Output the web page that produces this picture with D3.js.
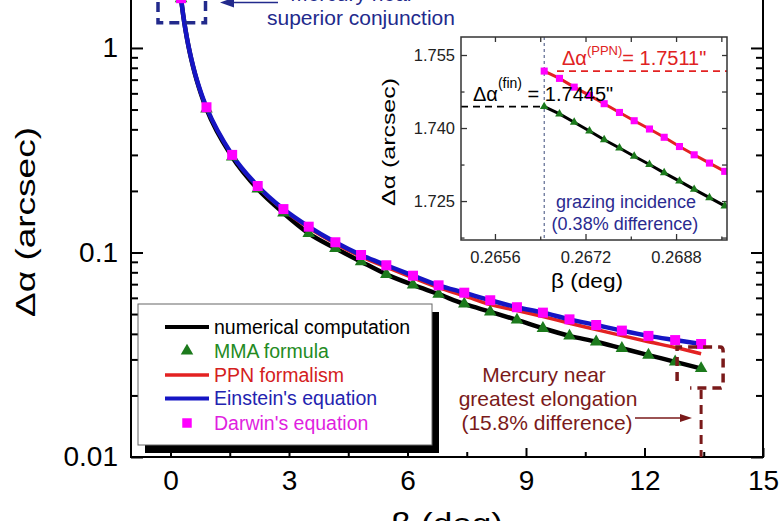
<!DOCTYPE html>
<html><head><meta charset="utf-8">
<script src="https://cdn.jsdelivr.net/npm/d3@7"></script>
<style>html,body{margin:0;padding:0;background:#fff;} svg{display:block;font-family:"Liberation Sans",Arial,sans-serif;}</style>
</head><body>
<svg id="chart" width="782" height="521"></svg>
<script>
// ---------------- data ----------------
const beta   = [0.267, 0.911, 1.561, 2.208, 2.859, 3.499, 4.174, 4.824, 5.464, 6.140, 6.787, 7.437, 8.095, 8.771, 9.428, 10.101, 10.777, 11.427, 12.100, 12.776, 13.433];
const darwin = [1.7511, 0.513, 0.300, 0.2114, 0.163, 0.1337, 0.1122, 0.0972, 0.0866, 0.0770, 0.0691, 0.0636, 0.0584, 0.0540, 0.0508, 0.0471, 0.0442, 0.0415, 0.0391, 0.0373, 0.0357];
const mma    = [1.7445, 0.503, 0.293, 0.2044, 0.1561, 0.1241, 0.1048, 0.0902, 0.0782, 0.0694, 0.0625, 0.0560, 0.0513, 0.0468, 0.0426, 0.0391, 0.0366, 0.0340, 0.0315, 0.0292, 0.0271];

// dense samples for the continuous curves
const lineBeta  = [0.267, 0.32, 0.38, 0.45, 0.53, 0.62, 0.72, 0.82, 0.911, 1.561, 2.208, 2.859, 3.499, 4.174, 4.824, 5.464, 6.140, 6.787, 7.437, 8.095, 8.771, 9.428, 10.101, 10.777, 11.427, 12.100, 12.776, 13.433];
const numerical = [1.7445, 1.452, 1.222, 1.031, 0.874, 0.745, 0.640, 0.560, 0.503, 0.293, 0.2044, 0.1561, 0.1241, 0.1048, 0.0902, 0.0782, 0.0694, 0.0625, 0.0560, 0.0513, 0.0468, 0.0426, 0.0391, 0.0366, 0.0340, 0.0315, 0.0292, 0.0271];
const ppn       = [1.7511, 1.457, 1.226, 1.035, 0.879, 0.751, 0.647, 0.567, 0.512, 0.299, 0.210, 0.1615, 0.1320, 0.1105, 0.0955, 0.0848, 0.0752, 0.0673, 0.0614, 0.0556, 0.0520, 0.0486, 0.0451, 0.0420, 0.0392, 0.0366, 0.0343, 0.0320];
const einstein  = [1.7511, 1.458, 1.227, 1.036, 0.880, 0.752, 0.648, 0.569, 0.513, 0.300, 0.2114, 0.163, 0.1337, 0.1122, 0.0972, 0.0866, 0.0770, 0.0691, 0.0636, 0.0584, 0.0540, 0.0508, 0.0471, 0.0442, 0.0415, 0.0391, 0.0373, 0.0357];

const xTicks = [0, 3, 6, 9, 12, 15];
const xMinorTicks = [1.5, 4.5, 7.5, 10.5, 13.5];
const yTicks = [0.01, 0.1, 1];
const yTickLabels = ["0.01", "0.1", "1"];
const yMinorTicks = [0.02,0.03,0.04,0.05,0.06,0.07,0.08,0.09,0.2,0.3,0.4,0.5,0.6,0.7,0.8,0.9];

// inset
const insetBeta = [0.26647, 0.26674, 0.26700, 0.26727, 0.26753, 0.26780, 0.26806, 0.26833, 0.26859, 0.26886, 0.26912, 0.26939, 0.26966];
const insetPPN  = [1.7517, 1.7502, 1.7484, 1.7467, 1.7450, 1.7432, 1.7415, 1.7398, 1.7381, 1.7362, 1.7345, 1.7328, 1.7311];
const insetNum  = [1.7444, 1.7429, 1.7412, 1.7394, 1.7376, 1.7359, 1.7342, 1.7325, 1.7308, 1.7291, 1.7274, 1.7257, 1.7240];
const insetXTicks = [0.2656, 0.2672, 0.2688];
const insetXMinor = [0.2664, 0.2680, 0.2696];
const insetYTicks = [1.725, 1.740, 1.755];
const insetYMinor = [1.7175, 1.7325, 1.7475];

const legendItems = [
  {label: "numerical computation", type: "line", color: "#000000", text: "#000000", w: 4},
  {label: "MMA formula", type: "tri", color: "#1c7a1c", text: "#238b23"},
  {label: "PPN formalism", type: "line", color: "#e32222", text: "#d42020", w: 3.5},
  {label: "Einstein's equation", type: "line", color: "#1515c4", text: "#2323b0", w: 4},
  {label: "Darwin's equation", type: "sq", color: "#ff00ff", text: "#e01ee0"}
];

// ---------------- colours ----------------
const C = {black:"#000", green:"#1c7a1c", red:"#e32222", blue:"#1515c4", mag:"#ff00ff", navy:"#222a8c", maroon:"#7a1a1a"};

const svg = d3.select("#chart");
const FONT = '"Liberation Sans", Arial, sans-serif';

// ---------------- main scales ----------------
const x = d3.scaleLinear().domain([-1, 15]).range([131, 763]);
const y = d3.scaleLog().domain([0.01, 2]).range([457, -13.6]);
const X0 = 131, X1 = 763, Y0 = 457, Y1 = -13.6;

function styleAxis(g, fs) {
  g.attr("font-family", FONT).attr("font-size", fs);
  g.select(".domain").remove();
  g.selectAll(".tick line").attr("stroke", "#000").attr("stroke-width", 2);
  g.selectAll(".tick text").attr("fill", "#000");
}

// bottom
styleAxis(svg.append("g").attr("transform", `translate(0,${Y0})`)
  .call(d3.axisBottom(x).tickValues(xTicks).tickSizeInner(-9).tickSizeOuter(0).tickPadding(13).tickFormat(d3.format("d"))), 28);
styleAxis(svg.append("g").attr("transform", `translate(0,${Y0})`)
  .call(d3.axisBottom(x).tickValues(xMinorTicks).tickSizeInner(-5).tickSizeOuter(0).tickFormat("")), 28);
// top
styleAxis(svg.append("g").attr("transform", `translate(0,${Y1})`)
  .call(d3.axisTop(x).tickValues(xTicks).tickSizeInner(-9).tickSizeOuter(0).tickFormat("")), 28);
// left
styleAxis(svg.append("g").attr("transform", `translate(${X0},0)`)
  .call(d3.axisLeft(y).tickValues(yTicks).tickSizeInner(-12).tickSizeOuter(0).tickPadding(13).tickFormat((d, i) => yTickLabels[i])), 28);
styleAxis(svg.append("g").attr("transform", `translate(${X0},0)`)
  .call(d3.axisLeft(y).tickValues(yMinorTicks).tickSizeInner(-7).tickSizeOuter(0).tickFormat("")), 28);
// right
styleAxis(svg.append("g").attr("transform", `translate(${X1},0)`)
  .call(d3.axisRight(y).tickValues(yTicks).tickSizeInner(-12).tickSizeOuter(0).tickFormat("")), 28);
styleAxis(svg.append("g").attr("transform", `translate(${X1},0)`)
  .call(d3.axisRight(y).tickValues(yMinorTicks).tickSizeInner(-7).tickSizeOuter(0).tickFormat("")), 28);

// frame
svg.append("rect").attr("x", X0).attr("y", Y1).attr("width", X1 - X0).attr("height", Y0 - Y1)
  .attr("fill", "none").attr("stroke", "#000").attr("stroke-width", 2);

// axis titles
svg.append("text").attr("transform", "translate(35,222) rotate(-90)")
  .attr("text-anchor", "middle").attr("font-size", 27).attr("textLength", 190).attr("lengthAdjust", "spacingAndGlyphs")
  .text("Δα (arcsec)");
svg.append("text").attr("x", 447).attr("y", 534).attr("text-anchor", "middle")
  .attr("font-size", 30).attr("textLength", 112).attr("lengthAdjust", "spacingAndGlyphs").text("β (deg)");

// ---------------- curves ----------------
const line = d3.line().x(d => x(d[0])).y(d => y(d[1])).curve(d3.curveMonotoneX);
const zip = (a, b) => a.map((v, i) => [v, b[i]]);
svg.append("path").datum(zip(lineBeta, numerical)).attr("d", line).attr("fill", "none").attr("stroke", C.black).attr("stroke-width", 4.5);
svg.append("path").datum(zip(lineBeta, ppn)).attr("d", line).attr("fill", "none").attr("stroke", C.red).attr("stroke-width", 3.5);
svg.append("path").datum(zip(lineBeta, einstein)).attr("d", line).attr("fill", "none").attr("stroke", C.blue).attr("stroke-width", 4.5);

const tri = d3.symbol().type(d3.symbolTriangle).size(68);
const sq = d3.symbol().type(d3.symbolSquare).size(100);
svg.append("g").selectAll("path").data(zip(beta, mma)).join("path")
  .attr("d", tri).attr("transform", d => `translate(${x(d[0])},${y(d[1])})`).attr("fill", C.green);
svg.append("g").selectAll("path").data(zip(beta, darwin)).join("path")
  .attr("d", sq).attr("transform", d => `translate(${x(d[0])},${y(d[1])})`).attr("fill", C.mag);

// ---------------- annotations ----------------
// top-left (superior conjunction)
svg.append("path").attr("d", "M158,-30 L158,22.7 L205.5,22.7 L205.5,-30")
  .attr("fill", "none").attr("stroke", C.navy).attr("stroke-width", 3.5).attr("stroke-dasharray", "10,6");
svg.append("line").attr("x1", 278).attr("x2", 230).attr("y1", 2.5).attr("y2", 2.5).attr("stroke", C.navy).attr("stroke-width", 1.6);
svg.append("path").attr("d", "M220,2.5 L234,-2.5 L234,7.5 Z").attr("fill", C.navy);
svg.append("text").attr("x", 352).attr("y", 1).attr("text-anchor", "middle").attr("font-size", 21).attr("fill", C.navy).text("Mercury near");
svg.append("text").attr("x", 361).attr("y", 25).attr("text-anchor", "middle").attr("font-size", 21).attr("fill", C.navy).text("superior conjunction");

// bottom-right (greatest elongation)
const xl = x(beta[beta.length - 1]);
svg.append("path").attr("d", `M${xl-24},381 L${xl-24},347 L${xl+19},347 Q${xl+22},347 ${xl+22},351 L${xl+22},385 Q${xl+22},388 ${xl+19},388 L${xl-11},388`)
  .attr("fill", "none").attr("stroke", C.maroon).attr("stroke-width", 3.5).attr("stroke-dasharray", "9,6");
svg.append("line").attr("x1", xl).attr("x2", xl).attr("y1", 390).attr("y2", Y0).attr("stroke", C.maroon).attr("stroke-width", 3).attr("stroke-dasharray", "9,6");
svg.append("line").attr("x1", 635).attr("x2", 684).attr("y1", 418).attr("y2", 418).attr("stroke", C.maroon).attr("stroke-width", 1.4);
svg.append("path").attr("d", "M692,418 L680,414 L680,422 Z").attr("fill", C.maroon);
[["Mercury near", 544, 382], ["greatest elongation", 548, 406], ["(15.8% difference)", 547, 430]].forEach(([t, tx, ty]) => {
  svg.append("text").attr("x", tx).attr("y", ty).attr("text-anchor", "middle").attr("font-size", 21).attr("fill", C.maroon).text(t);
});

// ---------------- legend ----------------
const LX = 138, LY = 304, LW = 294, LH = 141;
svg.append("rect").attr("x", LX + 7).attr("y", LY + 8).attr("width", LW).attr("height", LH).attr("fill", "#000");
svg.append("rect").attr("x", LX).attr("y", LY).attr("width", LW).attr("height", LH).attr("fill", "#fff").attr("stroke", "#666").attr("stroke-width", 1);
const rowY = [327, 351, 375, 398.5, 423];
legendItems.forEach((it, i) => {
  const ry = rowY[i];
  if (it.type === "line") {
    svg.append("line").attr("x1", 165).attr("x2", 209).attr("y1", ry).attr("y2", ry).attr("stroke", it.color).attr("stroke-width", it.w);
  } else if (it.type === "tri") {
    svg.append("path").attr("d", tri).attr("transform", `translate(187,${ry})`).attr("fill", it.color);
  } else {
    svg.append("path").attr("d", d3.symbol().type(d3.symbolSquare).size(90)).attr("transform", `translate(187,${ry})`).attr("fill", it.color);
  }
  svg.append("text").attr("x", 214).attr("y", ry + 6.5).attr("font-size", 19.5).attr("fill", it.text).text(it.label);
});

// ---------------- inset ----------------
const IX0 = 461, IX1 = 727, IY0 = 240, IY1 = 37;
const xi = d3.scaleLinear().domain([0.2650, 0.2697]).range([IX0, IX1]);
const yi = d3.scaleLinear().domain([1.717, 1.7587]).range([IY0, IY1]);
svg.append("rect").attr("x", IX0).attr("y", IY1).attr("width", IX1 - IX0).attr("height", IY0 - IY1).attr("fill", "#fff");

function styleInset(g) {
  g.attr("font-family", FONT).attr("font-size", 16.5);
  g.select(".domain").remove();
  g.selectAll(".tick line").attr("stroke", "#333").attr("stroke-width", 1.3);
  g.selectAll(".tick text").attr("fill", "#222");
}
styleInset(svg.append("g").attr("transform", `translate(0,${IY0})`)
  .call(d3.axisBottom(xi).tickValues(insetXTicks).tickSizeInner(-6).tickSizeOuter(0).tickPadding(11).tickFormat(d3.format(".4f"))));
styleInset(svg.append("g").attr("transform", `translate(0,${IY0})`)
  .call(d3.axisBottom(xi).tickValues(insetXMinor).tickSizeInner(-3.5).tickSizeOuter(0).tickFormat("")));
styleInset(svg.append("g").attr("transform", `translate(0,${IY1})`)
  .call(d3.axisTop(xi).tickValues(insetXTicks.concat(insetXMinor)).tickSizeInner(-5).tickSizeOuter(0).tickFormat("")));
styleInset(svg.append("g").attr("transform", `translate(${IX0},0)`)
  .call(d3.axisLeft(yi).tickValues(insetYTicks).tickSizeInner(-6).tickSizeOuter(0).tickPadding(6).tickFormat(d3.format(".3f"))));
styleInset(svg.append("g").attr("transform", `translate(${IX0},0)`)
  .call(d3.axisLeft(yi).tickValues(insetYMinor).tickSizeInner(-3.5).tickSizeOuter(0).tickFormat("")));
styleInset(svg.append("g").attr("transform", `translate(${IX1},0)`)
  .call(d3.axisRight(yi).tickValues(insetYTicks.concat(insetYMinor)).tickSizeInner(-5).tickSizeOuter(0).tickFormat("")));

svg.append("defs").append("clipPath").attr("id", "iclip").append("rect")
  .attr("x", IX0).attr("y", IY1).attr("width", IX1 - IX0).attr("height", IY0 - IY1);
const ig = svg.append("g").attr("clip-path", "url(#iclip)");

// guide lines
ig.append("line").attr("x1", xi(insetBeta[0])).attr("x2", xi(insetBeta[0])).attr("y1", IY1).attr("y2", IY0)
  .attr("stroke", "#3a4a7a").attr("stroke-width", 1).attr("stroke-dasharray", "3,3");
ig.append("line").attr("x1", 557).attr("x2", IX1).attr("y1", yi(insetPPN[0])).attr("y2", yi(insetPPN[0]))
  .attr("stroke", C.red).attr("stroke-width", 1.6).attr("stroke-dasharray", "7,5");
ig.append("line").attr("x1", IX0).attr("x2", xi(insetBeta[0])).attr("y1", yi(insetNum[0])).attr("y2", yi(insetNum[0]))
  .attr("stroke", "#000").attr("stroke-width", 1.6).attr("stroke-dasharray", "7,5");

const iline = d3.line().x(d => xi(d[0])).y(d => yi(d[1]));
ig.append("path").datum(zip(insetBeta, insetNum)).attr("d", iline).attr("fill", "none").attr("stroke", "#000").attr("stroke-width", 3);
ig.append("path").datum(zip(insetBeta, insetPPN)).attr("d", iline).attr("fill", "none").attr("stroke", C.red).attr("stroke-width", 3);
ig.append("g").selectAll("path").data(zip(insetBeta, insetNum)).join("path")
  .attr("d", d3.symbol().type(d3.symbolTriangle).size(32)).attr("transform", d => `translate(${xi(d[0])},${yi(d[1])})`).attr("fill", C.green);
ig.append("g").selectAll("path").data(zip(insetBeta, insetPPN)).join("path")
  .attr("d", d3.symbol().type(d3.symbolSquare).size(50)).attr("transform", d => `translate(${xi(d[0])},${yi(d[1])})`).attr("fill", C.mag);

svg.append("rect").attr("x", IX0).attr("y", IY1).attr("width", IX1 - IX0).attr("height", IY0 - IY1)
  .attr("fill", "none").attr("stroke", "#333").attr("stroke-width", 1.5);

// inset labels
const t1 = svg.append("text").attr("x", 562).attr("y", 65).attr("font-size", 20).attr("fill", "#e02222");
t1.append("tspan").text("Δα");
t1.append("tspan").attr("font-size", 13).attr("dy", -10).text("(PPN)");
t1.append("tspan").attr("dy", 10).text("= 1.7511\"");
const t2 = svg.append("text").attr("x", 473).attr("y", 100.5).attr("font-size", 20).attr("fill", "#000");
t2.append("tspan").text("Δα");
t2.append("tspan").attr("font-size", 14).attr("dy", -13).text("(fin)");
t2.append("tspan").attr("dy", 13).text(" = 1.7445\"");

svg.append("text").attr("x", 626).attr("y", 208).attr("text-anchor", "middle").attr("font-size", 18).attr("fill", "#2b2b90").text("grazing incidence");
svg.append("text").attr("x", 625).attr("y", 230).attr("text-anchor", "middle").attr("font-size", 18).attr("fill", "#2b2b90").text("(0.38% difference)");

svg.append("text").attr("transform", "translate(395,142) rotate(-90)").attr("text-anchor", "middle")
  .attr("font-size", 18.5).attr("textLength", 128).attr("lengthAdjust", "spacingAndGlyphs").text("Δα (arcsec)");
svg.append("text").attr("x", 587).attr("y", 288).attr("text-anchor", "middle")
  .attr("font-size", 20).attr("textLength", 72).attr("lengthAdjust", "spacingAndGlyphs").text("β (deg)");
</script></body></html>
